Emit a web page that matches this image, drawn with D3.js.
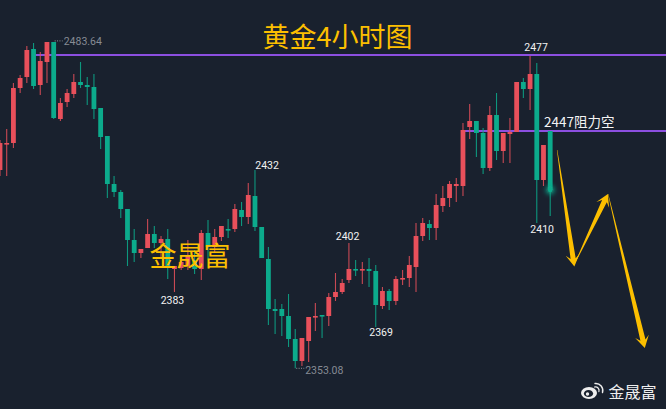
<!DOCTYPE html>
<html><head><meta charset="utf-8">
<style>html,body{margin:0;padding:0;background:#19212e;overflow:hidden}svg{display:block}</style>
<script src="https://cdn.jsdelivr.net/npm/d3@7/dist/d3.min.js"></script></head><body>
<script>
const opens=[2432.4,2442.8,2443.2,2465.2,2469.6,2480.8,2466.4,2475.6,2483.6,2452.8,2459.6,2462.8,2467.6,2466.4,2465.6,2457.2,2446.0,2426.8,2423.6,2416.8,2404.4,2399.2,2401.2,2406.8,2403.2,2404.8,2392.8,2393.2,2394.0,2396.4,2392.8,2407.2,2401.6,2405.6,2408.8,2408.8,2416.4,2413.6,2422.0,2409.6,2396.8,2376.8,2376.8,2374.0,2364.8,2356.0,2364.0,2373.6,2374.4,2374.0,2381.6,2383.6,2388.4,2392.8,2392.4,2392.8,2392.0,2378.0,2384.0,2380.0,2388.8,2389.2,2393.6,2406.0,2410.8,2409.2,2418.0,2421.2,2426.0,2426.0,2449.6,2452.0,2447.2,2433.2,2454.4,2440.0,2446.8,2447.6,2467.6,2464.8,2470.8,2428.4,2448.0];
const highs=[2444.4,2448.8,2467.2,2470.4,2482.0,2483.2,2479.6,2483.64,2483.64,2461.2,2464.8,2470.8,2475.6,2469.6,2470.8,2457.2,2446.0,2430.0,2424.4,2416.8,2408.8,2400.8,2412.8,2410.0,2406.0,2408.8,2394.0,2397.2,2404.4,2400.4,2408.4,2412.4,2408.8,2410.0,2412.8,2418.8,2419.6,2427.2,2432.4,2409.6,2401.6,2380.8,2378.8,2382.8,2368.8,2365.2,2373.6,2379.2,2374.4,2383.2,2391.2,2388.8,2403.2,2396.4,2395.6,2397.2,2394.4,2385.6,2384.8,2390.0,2392.4,2398.0,2411.2,2413.2,2412.4,2422.8,2426.0,2428.0,2429.2,2451.2,2458.8,2452.0,2449.2,2458.0,2463.2,2447.2,2453.2,2467.6,2469.2,2478.0,2475.2,2442.4,2448.0];
const lows=[2430.0,2430.0,2441.2,2463.2,2467.2,2464.8,2462.4,2467.2,2452.8,2452.0,2457.6,2461.2,2465.2,2458.4,2452.8,2440.8,2421.2,2421.6,2413.2,2394.0,2395.6,2397.2,2401.2,2401.2,2397.2,2388.8,2383.6,2392.4,2392.4,2390.8,2388.4,2396.4,2399.2,2404.0,2405.2,2407.6,2410.0,2410.8,2408.0,2397.2,2370.4,2366.8,2366.0,2361.6,2353.08,2354.0,2355.6,2368.0,2365.2,2370.0,2380.0,2382.8,2387.2,2390.0,2386.8,2385.6,2369.6,2376.8,2376.4,2378.4,2386.4,2385.6,2383.6,2404.0,2404.4,2404.4,2415.6,2417.6,2419.6,2422.0,2444.8,2437.6,2430.8,2432.0,2436.4,2435.2,2435.2,2447.6,2461.2,2456.4,2411.2,2426.0,2414.0];
const closes=[2443.2,2443.2,2465.2,2469.2,2480.4,2466.0,2476.0,2483.6,2453.2,2459.2,2463.2,2467.6,2466.4,2465.6,2456.8,2445.6,2426.8,2423.6,2416.8,2404.4,2399.2,2400.8,2406.8,2403.2,2404.8,2393.2,2394.0,2395.6,2398.4,2392.8,2407.2,2401.6,2405.6,2410.0,2408.4,2416.8,2413.6,2422.4,2409.6,2397.2,2376.8,2376.0,2374.0,2364.8,2356.0,2365.2,2373.6,2374.0,2374.0,2381.6,2383.6,2387.2,2392.8,2392.4,2392.8,2392.0,2378.4,2384.0,2380.0,2388.8,2389.2,2394.4,2406.0,2411.2,2409.2,2418.4,2421.2,2426.8,2426.8,2448.4,2452.0,2447.2,2433.2,2454.4,2440.0,2447.2,2447.6,2467.6,2464.8,2470.8,2428.4,2442.4,2424.4];
const levels=[{price:2478.4,from:5.2},{price:2448.0,from:69}];
const arrowPaths=[[[83.0,2440.4],[85.6,2393.8]],[[85.7,2395.0],[90.6,2422.8]],[[90.6,2422.8],[96.1,2361.2]]];
const priceLabels=[{t:"2432",i:39.8,p:2432.8},{t:"2402",i:51.8,p:2404.4},{t:"2383",i:25.7,p:2379.0},{t:"2369",i:56.8,p:2366.0},{t:"2410",i:80.8,p:2407.2},{t:"2477",i:79.9,p:2480.0}];
const extremes=[{t:"2483.64",i:8,p:2483.64},{t:"2353.08",i:44,p:2353.08}];
const titleText="黄金4小时图",brandText="金晟富",levelText="2447阻力空";

const W=666,H=409,BG="#19212e",UP="#e8505b",DOWN="#0cab8c",PURPLE="#8c4fe0",GOLD="#fcbf00";
const CJK='"Noto Sans CJK SC","Noto Sans",sans-serif';
const LAT='Roboto,"Noto Sans CJK SC",sans-serif';
const x=d3.scaleLinear().domain([0,82]).range([0,550.2]);
const y=d3.scaleLinear().domain([2500.4,2340]).range([0,401]);
const svg=d3.select("body").append("svg").attr("width",W).attr("height",H);
svg.append("rect").attr("width",W).attr("height",H).attr("fill",BG);
const defs=svg.append("defs");
defs.append("filter").attr("id","glow").attr("x","-200%").attr("y","-200%").attr("width","500%").attr("height","500%")
  .append("feGaussianBlur").attr("stdDeviation",2.4);

const data=opens.map((o,i)=>({i,o,h:highs[i],l:lows[i],c:closes[i]}));
const col=d=>d.c>=d.o?UP:DOWN;

svg.append("g").selectAll("line").data(levels).join("line")
  .attr("x1",d=>x(d.from)).attr("x2",W)
  .attr("y1",d=>y(d.price)).attr("y2",d=>y(d.price))
  .attr("stroke",PURPLE).attr("stroke-width",2);

const g=svg.append("g");
g.selectAll(".w").data(data).join("line").attr("class","w")
  .attr("x1",d=>x(d.i)).attr("x2",d=>x(d.i)).attr("y1",d=>y(d.h)).attr("y2",d=>y(d.l))
  .attr("stroke",col).attr("stroke-width",1.1).attr("stroke-opacity",.85);
g.selectAll(".b").data(data).join("rect").attr("class","b")
  .attr("x",d=>x(d.i)-2.4).attr("width",4.8)
  .attr("y",d=>Math.min(y(d.o),y(d.c)))
  .attr("height",d=>Math.max(1.6,Math.abs(y(d.o)-y(d.c))))
  .attr("fill",col);

const last=data[data.length-1];
svg.append("circle").attr("cx",x(last.i)).attr("cy",y(last.c)).attr("r",4.2).attr("fill",DOWN).attr("filter","url(#glow)");
svg.append("circle").attr("cx",x(last.i)).attr("cy",y(last.c)).attr("r",2.2).attr("fill",DOWN);

function arrow(a){
  const x0=x(a[0][0]),y0=y(a[0][1]),x1=x(a[1][0]),y1=y(a[1][1]);
  const dx=x1-x0,dy=y1-y0,L=Math.hypot(dx,dy),ux=dx/L,uy=dy/L,nx=-uy,ny=ux;
  const at=(t,n)=>[x1-ux*t+nx*n,y1-uy*t+ny*n];
  const pts=[[x0,y0],at(8,2.6),at(12,7),[x1,y1],at(12,-7),at(8,-2.6),[x0+nx*-.4,y0+ny*-.4]];
  return pts.map(p=>p.map(v=>v.toFixed(1)).join(",")).join(" ");
}
svg.append("g").selectAll("polygon").data(arrowPaths).join("polygon")
  .attr("points",arrow).attr("fill",GOLD);

svg.append("g").selectAll("text").data(priceLabels).join("text")
  .attr("x",d=>x(d.i)).attr("y",d=>y(d.p)).attr("text-anchor","middle")
  .attr("font-family",LAT).attr("font-size",10.5).attr("fill","#f2f2f2").text(d=>d.t);
const ex=svg.append("g").selectAll("g").data(extremes).join("g");
ex.append("line").attr("x1",d=>x(d.i)+1).attr("x2",d=>x(d.i)+9).attr("y1",d=>y(d.p)+(d.i<20?-1:0)).attr("y2",d=>y(d.p)+(d.i<20?-1:0))
  .attr("stroke","#8f949c").attr("stroke-width",1).attr("stroke-dasharray","1 1.4");
ex.append("text").attr("x",d=>x(d.i)+10).attr("y",d=>y(d.p)+(d.i<20?3:6)).attr("font-family",LAT)
  .attr("font-size",10.5).attr("fill","#868b94").text(d=>d.t);

svg.append("text").attr("x",262.5).attr("y",47).attr("font-family",CJK).attr("font-size",27).attr("fill",GOLD).text(titleText);
svg.append("text").attr("x",149.5).attr("y",266).attr("font-family",CJK).attr("font-size",27).attr("fill",GOLD).text(brandText);
svg.append("text").attr("x",544).attr("y",127).attr("font-family",CJK).attr("font-size",13.5).attr("fill","#f4f4f4").text(levelText);
svg.append("text").attr("x",608.5).attr("y",398).attr("font-family",CJK).attr("font-size",16).attr("fill","#eeeeee").text(brandText);

const wb=svg.append("g").attr("fill","none").attr("stroke","#eeeeee");
wb.append("ellipse").attr("cx",589).attr("cy",393).attr("rx",8).attr("ry",6).attr("fill","#eeeeee").attr("stroke","none");
wb.append("ellipse").attr("cx",588.5).attr("cy",393.5).attr("rx",4.6).attr("ry",3.6).attr("fill",BG).attr("stroke","none");
wb.append("circle").attr("cx",587.5).attr("cy",394).attr("r",1.7).attr("fill","#eeeeee").attr("stroke","none");
wb.append("path").attr("d","M595 383.5a7 7 0 0 1 7.5 9").attr("stroke-width",1.4).attr("stroke-linecap","round");
wb.append("path").attr("d","M594.5 387a3.6 3.6 0 0 1 4.4 4.6").attr("stroke-width",1.2).attr("stroke-linecap","round");
</script></body></html>
